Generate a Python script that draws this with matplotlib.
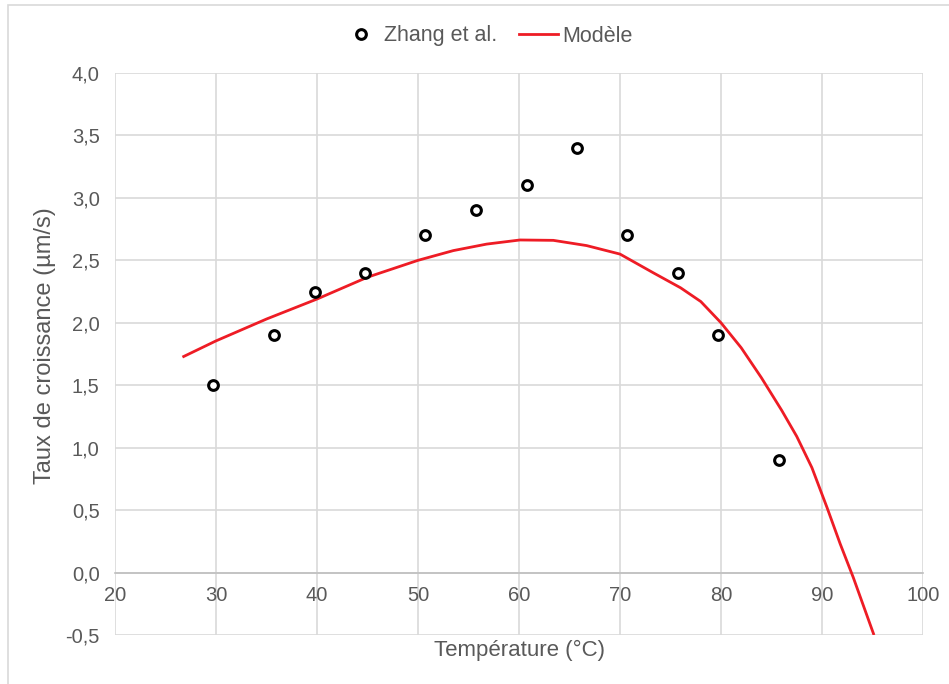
"""
Taux de croissance vs température: données de Zhang et al. et courbe du modèle.
"""
import matplotlib
matplotlib.use("Agg")
import matplotlib.pyplot as plt
from matplotlib.patches import Rectangle
from matplotlib.ticker import FuncFormatter

# Zhang et al. (points mesurés)
zhang_temp = [29.7, 35.7, 39.8, 44.8, 50.7, 55.7, 60.8, 65.7, 70.7, 75.7, 79.7, 85.7]
zhang_rate = [1.50, 1.90, 2.25, 2.40, 2.70, 2.90, 3.10, 3.40, 2.70, 2.40, 1.90, 0.90]

# Modèle (courbe)
model_temp = [26.8, 30, 35, 40, 45, 50, 53.5, 56.8, 60.1, 63.4, 66.7, 70,
              73.3, 76, 78, 80, 82, 84, 86, 87.5, 89, 90.5, 91.8, 93.1, 95.1]
model_rate = [1.73, 1.855, 2.03, 2.19, 2.365, 2.50, 2.578, 2.63, 2.663, 2.66,
              2.618, 2.55, 2.40, 2.28, 2.17, 2.00, 1.80, 1.56, 1.30, 1.09, 0.84,
              0.52, 0.23, -0.04, -0.49]

x_ticks = list(range(20, 101, 10))
y_ticks = [-0.5, 0.0, 0.5, 1.0, 1.5, 2.0, 2.5, 3.0, 3.5, 4.0]

TEXT_GREY = "#595959"
GRID_GREY = "#D9D9D9"

plt.rcParams["font.family"] = ["Liberation Sans", "DejaVu Sans"]

W, H = 949, 684
fig = plt.figure(figsize=(W / 100, H / 100), dpi=100)
ax = fig.add_axes([115 / W, 1 - 635 / H, (923 - 115) / W, (635 - 73) / H])

# cadre du graphique (seuls les bords gauche et haut sont visibles)
fig.patches.append(Rectangle((8 / W, -0.1), 1.2, 1 - 5 / H + 0.1,
                             transform=fig.transFigure, fill=False,
                             edgecolor=GRID_GREY, linewidth=1.2, zorder=0))

ax.plot(zhang_temp, zhang_rate, linestyle="none", marker="o", markersize=7,
        markerfacecolor="white", markeredgecolor="black", markeredgewidth=2.2,
        label="Zhang et al.", zorder=4, clip_on=False)
ax.plot(model_temp, model_rate, color="#EE1C25", linewidth=2.0,
        label="Modèle", zorder=3, solid_joinstyle="round")

ax.set_xlim(20, 100)
ax.set_ylim(-0.5, 4.0)
ax.set_xticks(x_ticks)
ax.set_yticks(y_ticks)
ax.yaxis.set_major_formatter(FuncFormatter(lambda v, p: f"{v:.1f}".replace(".", ",")))

ax.grid(True, color=GRID_GREY, linewidth=1.2)
ax.set_axisbelow(True)
for side in ["top", "right", "left"]:
    ax.spines[side].set_visible(False)
ax.spines["bottom"].set_position(("data", 0))
ax.spines["bottom"].set_color("#BFBFBF")
ax.spines["bottom"].set_linewidth(1.2)
ax.tick_params(axis="both", length=0, labelsize=14.5, labelcolor=TEXT_GREY)
ax.tick_params(axis="x", pad=10)
ax.tick_params(axis="y", pad=11)

ax.set_xlabel("Température (°C)", fontsize=16, color=TEXT_GREY)
ax.xaxis.set_label_coords(0.5, -0.008, transform=ax.transAxes)
ax.xaxis.label.set_verticalalignment("top")
ax.set_ylabel("Taux de croissance (µm/s)", fontsize=17, color=TEXT_GREY)
ax.yaxis.set_label_coords(-0.073, 0.515, transform=ax.transAxes)

leg = fig.legend(loc="center", bbox_to_anchor=(487 / W, 1 - 36 / H), ncol=2,
                 frameon=False, fontsize=15.5, handlelength=1.8, columnspacing=1.0,
                 handletextpad=0.2)
for t in leg.get_texts():
    t.set_color(TEXT_GREY)

fig.savefig("out.png", dpi=100)
